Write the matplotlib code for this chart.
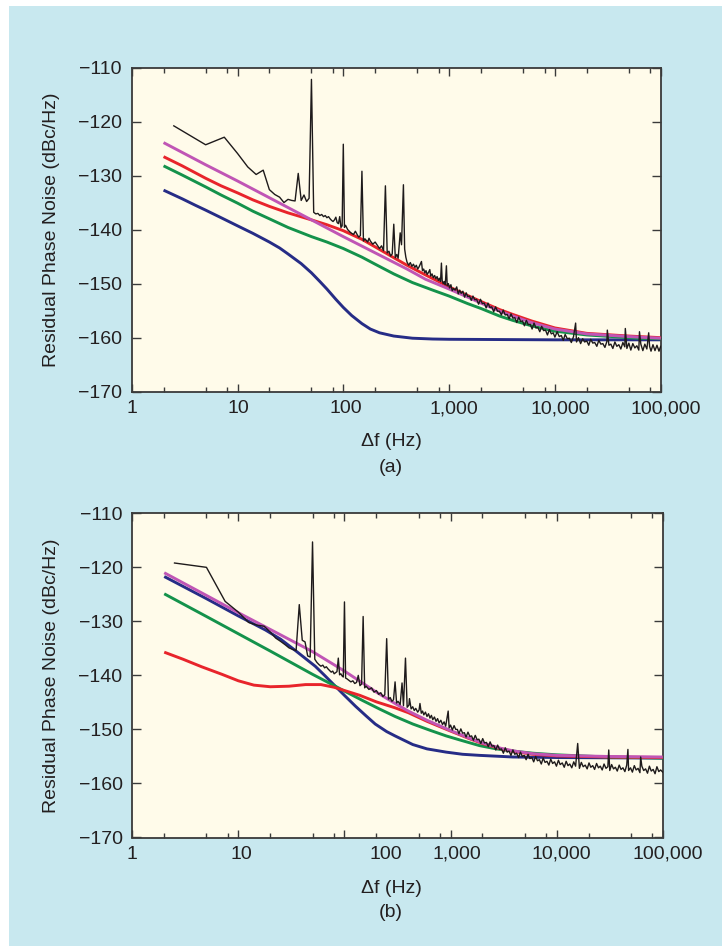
import matplotlib
matplotlib.use('Agg')
import matplotlib.pyplot as plt
from matplotlib.patches import Rectangle
from matplotlib.ticker import NullFormatter
from matplotlib.transforms import ScaledTranslation

plt.rcParams['font.family'] = ['Liberation Sans', 'DejaVu Sans']

# ---------------- data ----------------
x_major = [1, 10, 100, 1000, 10000, 100000]
x_major_labels = ['1', '10', '100', '1,000', '10,000', '100,000']
x_minor = [2, 5, 8, 20, 50, 80, 200, 500, 800, 2000, 5000, 8000,
           20000, 50000, 80000]
y_ticks = [-170, -160, -150, -140, -130, -120, -110]

# panel (a) smooth curves
a_mag_f = [2, 5, 10, 20, 50, 100, 200, 400, 600, 1000, 1500, 2000, 3000, 4000, 6000,
           10000, 20000, 50000, 100000]
a_mag_v = [-123.9, -128.0, -131.0, -134.1, -138.2, -141.3, -144.3, -147.3, -149.2, -151.0,
           -152.5, -153.6, -155.1, -156.0, -157.2, -158.4, -159.3, -159.8, -160.1]
a_red_f = [2, 3, 5, 7, 10, 14, 20, 30, 50, 70, 100, 150, 200, 300, 400, 600, 1000, 1500,
           2000, 3000, 4000, 6000, 10000, 20000, 50000, 100000]
a_red_v = [-126.5, -128.2, -130.5, -131.9, -133.2, -134.5, -135.7, -136.9, -138.2, -139.1,
           -140.2, -141.8, -143.2, -145.2, -146.6, -148.4, -150.6, -152.2, -153.3, -154.8,
           -155.7, -156.9, -158.2, -159.2, -159.7, -160.0]
a_grn_f = [2, 3, 5, 7, 10, 14, 20, 30, 50, 70, 100, 150, 200, 300, 450, 700, 1000, 1500,
           2000, 3000, 4000, 6000, 10000, 20000, 35000, 60000, 100000]
a_grn_v = [-128.2, -129.9, -132.1, -133.6, -135.1, -136.6, -138.0, -139.6, -141.3, -142.3,
           -143.5, -145.1, -146.4, -148.2, -149.8, -151.2, -152.3, -153.7, -154.6, -156.0,
           -156.8, -157.8, -158.8, -159.5, -159.8, -160.1, -160.2]
a_blu_f = [2, 3, 4, 5, 7, 10, 14, 20, 25, 30, 40, 50, 60, 70, 85, 100, 120, 150, 180, 220,
           300, 450, 700, 1000, 10000, 100000]
a_blu_v = [-132.7, -134.3, -135.5, -136.4, -137.8, -139.3, -140.7, -142.3, -143.4, -144.5,
           -146.3, -148.0, -149.6, -151.0, -152.9, -154.4, -155.9, -157.4, -158.4, -159.1,
           -159.7, -160.1, -160.25, -160.3, -160.4, -160.4]

# panel (a) measured trace (f, dBc/Hz)
a_meas = [
    (2.5, -120.8), (5, -124.3), (7.5, -122.9), (10, -125.9), (12.5, -128.4), (15, -129.8),
    (17.5, -129.0), (20, -132.6), (22.5, -133.5), (25, -134.0), (27.5, -135.0), (30, -134.4),
    (32.5, -134.6), (35, -134.7), (37.5, -129.6), (40, -134.6), (42.5, -133.6), (45, -134.8),
    (47.5, -134.2), (50, -112.2), (52.5, -136.8), (55, -137.1), (57.5, -137.0), (60, -137.4),
    (62.5, -137.2), (65, -137.6), (67.5, -137.4), (70, -137.8), (72.5, -137.6), (75, -138.0),
    (77.5, -138.3), (80, -138.5), (82.5, -138.2), (85, -137.7), (87.5, -138.7), (90, -138.9),
    (92.5, -137.6), (95, -139.6), (97.5, -139.3), (100, -124.2), (102.5, -139.6), (105, -139.2),
    (110, -140.0), (115, -140.4), (120, -140.7), (125, -140.9), (130, -140.3), (135, -140.9),
    (140, -141.4), (145, -141.1), (150, -129.2), (155, -142.1), (160, -141.7), (170, -142.3),
    (175, -141.6), (180, -142.1), (190, -142.7), (200, -142.3), (210, -142.9), (220, -143.5),
    (230, -143.0), (240, -143.9), (250, -131.9), (260, -144.3), (270, -144.0), (280, -144.9),
    (290, -144.5), (300, -139.0), (310, -145.2), (320, -144.6), (330, -145.3), (345, -140.6),
    (355, -142.8), (370, -131.7), (380, -143.6), (390, -145.1), (400, -146.0), (415, -146.6),
    (430, -146.1), (445, -146.8), (460, -146.4), (475, -147.0), (490, -146.6), (505, -147.3),
    (520, -146.9), (548, -145.9), (560, -147.6), (575, -147.3), (590, -148.0), (605, -147.6),
    (620, -148.3), (640, -147.9), (657, -147.4), (670, -148.6), (690, -148.2), (710, -148.9),
    (730, -148.5), (750, -149.1), (770, -148.7), (790, -149.4), (810, -149.0), (830, -149.6),
    (846, -146.2), (860, -149.4), (880, -150.0), (900, -149.6), (920, -150.2), (943, -146.7),
    (960, -150.4), (985, -150.0), (1010, -150.8), (1040, -150.2), (1070, -151.3), (1100, -150.9),
    (1140, -151.2), (1180, -150.6), (1220, -151.9), (1260, -151.2), (1300, -151.8), (1350, -151.4),
    (1400, -152.5), (1450, -151.7), (1500, -152.4), (1560, -152.3), (1620, -153.1), (1680, -152.3),
    (1750, -153.0), (1820, -152.9), (1900, -153.8), (1980, -152.9), (2060, -153.7), (2150, -153.6),
    (2240, -154.5), (2330, -153.6), (2430, -154.4), (2530, -154.3), (2640, -155.2), (2750, -154.3),
    (2870, -155.1), (2990, -155.1), (3120, -155.8), (3250, -154.9), (3390, -155.8), (3540, -155.7),
    (3690, -156.5), (3850, -155.6), (4010, -156.4), (4180, -156.3), (4360, -157.2), (4550, -156.2),
    (4740, -157.0), (4940, -156.9), (5150, -157.8), (5370, -156.8), (5600, -157.6), (5840, -157.5),
    (6090, -158.4), (6350, -157.3), (6620, -158.2), (6900, -158.1), (7200, -158.9), (7500, -157.9),
    (7820, -158.7), (8150, -158.6), (8500, -159.5), (8870, -158.5), (9250, -159.3), (9640, -159.1),
    (10000, -159.9), (10500, -158.9), (11000, -159.8), (11500, -159.6), (12000, -160.5),
    (12500, -159.4), (13100, -160.2), (13700, -160.1), (14300, -160.9), (15000, -159.8),
    (15700, -157.3), (16000, -160.8), (16700, -160.0), (17500, -161.1), (18300, -160.2),
    (19100, -160.8), (20000, -160.6), (20900, -161.4), (21800, -160.3), (22800, -161.0),
    (23800, -160.9), (24900, -161.6), (26000, -160.5), (27200, -161.2), (28400, -161.1),
    (29700, -161.8), (31000, -160.7), (31300, -158.6), (32400, -161.4), (33800, -161.2),
    (35300, -162.0), (36900, -160.8), (38500, -161.6), (40200, -161.3), (42000, -162.1),
    (43900, -160.9), (45800, -161.7), (46300, -158.3), (47900, -162.0), (50000, -161.0),
    (52200, -162.3), (54500, -161.1), (57000, -161.9), (59500, -161.5), (62100, -162.3),
    (63000, -158.9), (64900, -161.2), (67800, -162.4), (70800, -161.2), (74000, -162.1),
    (77000, -159.1), (78500, -161.6), (81000, -162.5), (84500, -161.3), (88300, -162.4),
    (92200, -161.4), (96300, -162.5), (100000, -161.6),
]

# panel (b) smooth curves
b_mag_f = [2, 5, 10, 20, 50, 100, 200, 300, 400, 600, 1000, 1500, 2000, 3000, 4000, 6000,
           10000, 30000, 100000]
b_mag_v = [-121.0, -125.2, -128.4, -131.5, -135.6, -139.2, -143.1, -145.2, -146.6, -148.3,
           -150.2, -151.6, -152.5, -153.5, -154.0, -154.5, -154.8, -155.0, -155.1]
b_red_f = [2, 3, 4.5, 7, 10, 14, 20, 30, 43, 60, 80, 100, 140, 200, 300, 400, 600, 1000,
           1500, 2000, 3000, 4000, 6000, 10000, 30000, 100000]
b_red_v = [-135.7, -137.0, -138.4, -139.8, -141.0, -141.8, -142.1, -142.0, -141.7, -141.7,
           -142.2, -142.8, -143.7, -144.9, -146.0, -146.9, -148.5, -150.3, -151.7, -152.6,
           -153.6, -154.1, -154.6, -154.9, -155.1, -155.2]
b_grn_f = [2, 5, 10, 20, 50, 82, 100, 150, 213, 300, 441, 650, 910, 1300, 1880, 2700, 3880,
           6000, 10000, 30000, 100000]
b_grn_v = [-124.9, -129.1, -132.3, -135.5, -139.8, -142.0, -142.9, -144.7, -146.2, -147.6,
           -149.0, -150.2, -151.2, -152.1, -153.0, -153.6, -154.0, -154.4, -154.7, -155.1,
           -155.3]
b_blu_f = [2, 5, 10, 18, 25, 35, 45, 53, 65, 82, 100, 127, 160, 195, 250, 300, 441, 600,
           910, 1300, 1880, 3880, 10000, 100000]
b_blu_v = [-121.7, -125.8, -129.0, -131.6, -133.3, -135.5, -137.2, -138.3, -140.0, -142.0,
           -143.7, -145.7, -147.5, -149.0, -150.4, -151.2, -152.8, -153.6, -154.2, -154.6,
           -154.8, -155.1, -155.2, -155.3]

# panel (b) measured trace (f, dBc/Hz)
b_meas = [
    (2.5, -119.2), (5, -120.0), (7.5, -126.3), (10, -128.3), (12.5, -130.2), (15, -130.7),
    (17.5, -130.9), (20, -132.0), (22.5, -133.1), (25, -133.7), (27.5, -134.3), (30, -134.9),
    (32.5, -135.2), (35, -135.4), (37.5, -126.9), (40, -133.5), (42.5, -133.8), (45, -136.4),
    (47.5, -136.6), (50, -115.3), (52.5, -137.0), (55, -137.6), (57.5, -138.0), (60, -138.3),
    (62.5, -138.1), (65, -138.6), (67.5, -138.4), (70, -138.8), (72.5, -139.1), (75, -139.4),
    (77.5, -139.2), (80, -139.7), (82.5, -139.5), (85, -139.3), (87.5, -136.8), (90, -139.9),
    (92.5, -139.7), (95, -140.1), (97.5, -140.3), (100, -126.4), (102.5, -140.5), (105, -140.6),
    (110, -140.9), (115, -141.2), (120, -141.0), (125, -141.5), (130, -141.3), (135, -140.0),
    (140, -141.9), (145, -141.6), (150, -129.1), (155, -142.3), (160, -142.0), (170, -142.6),
    (180, -142.3), (190, -143.1), (200, -142.8), (210, -143.5), (220, -143.2), (230, -143.9),
    (240, -143.6), (250, -133.2), (260, -144.4), (270, -144.1), (280, -144.8), (290, -144.5),
    (300, -141.2), (310, -145.1), (320, -144.8), (335, -145.4), (349, -141.4), (360, -145.6),
    (376, -136.8), (390, -145.9), (405, -145.5), (410, -144.3), (425, -146.2), (440, -145.8),
    (455, -146.5), (470, -146.1), (490, -146.8), (505, -146.4), (515, -145.2), (530, -147.0),
    (545, -146.6), (560, -147.3), (580, -146.8), (600, -147.6), (620, -147.1), (640, -147.9),
    (660, -147.4), (680, -148.2), (705, -147.7), (730, -148.5), (755, -148.0), (780, -148.8),
    (810, -148.3), (840, -149.1), (870, -148.6), (900, -149.4), (950, -146.6), (970, -149.7),
    (1000, -149.2), (1040, -150.1), (1080, -149.3), (1120, -150.0), (1160, -150.0),
    (1200, -150.8), (1250, -149.9), (1300, -150.7), (1350, -150.6), (1400, -151.4),
    (1460, -150.5), (1520, -151.3), (1580, -151.2), (1640, -152.0), (1710, -151.1),
    (1780, -151.9), (1850, -151.8), (1930, -152.6), (2010, -151.7), (2090, -152.5),
    (2180, -152.4), (2270, -153.2), (2360, -152.3), (2460, -153.1), (2560, -153.0),
    (2670, -153.8), (2780, -152.9), (2900, -153.7), (3020, -153.6), (3150, -154.4),
    (3280, -153.4), (3420, -154.2), (3560, -154.0), (3710, -154.8), (3870, -153.8),
    (4030, -154.6), (4200, -154.4), (4380, -155.2), (4560, -154.2), (4750, -155.0),
    (4950, -154.8), (5160, -155.6), (5380, -154.6), (5600, -155.4), (5840, -155.2),
    (6080, -156.0), (6340, -155.0), (6600, -155.8), (6880, -155.6), (7170, -156.4),
    (7470, -155.3), (7780, -156.1), (8110, -155.9), (8450, -156.6), (8800, -155.5),
    (9170, -156.3), (9560, -156.0), (9960, -156.8), (10400, -155.7), (10800, -156.5),
    (11300, -156.2), (11800, -157.0), (12300, -155.9), (12800, -156.7), (13300, -156.4),
    (13900, -157.1), (14500, -156.0), (15100, -156.8), (15800, -152.6), (16400, -157.2),
    (17100, -156.1), (17800, -156.9), (18600, -156.6), (19400, -157.3), (20200, -156.2),
    (21000, -157.0), (21900, -156.7), (22800, -157.4), (23800, -156.3), (24800, -157.1),
    (25800, -156.8), (26900, -157.5), (28000, -156.4), (29200, -157.2), (30400, -156.9),
    (31000, -153.8), (31700, -157.6), (33000, -156.5), (34400, -157.3), (35800, -157.0),
    (37300, -157.7), (38900, -156.6), (40500, -157.4), (42200, -157.1), (44000, -157.8),
    (45800, -156.6), (47000, -153.7), (47700, -157.6), (49700, -157.1), (51800, -157.9),
    (54000, -156.7), (56200, -157.5), (58600, -157.2), (61000, -158.0), (62000, -155.1),
    (63600, -156.8), (66200, -157.6), (69000, -157.3), (71900, -158.1), (74900, -156.8),
    (78000, -157.7), (81300, -157.4), (84700, -158.2), (88200, -156.9), (91900, -157.8),
    (95700, -157.5), (100000, -157.9),
]

# ---------------- style ----------------
BG_BLUE = '#c8e8ef'
AX_FACE = '#fffbea'
C_MAG = '#c055b5'
C_RED = '#e8242b'
C_GRN = '#14924b'
C_BLU = '#262c86'
C_BLK = '#1e1a1b'
SPINE = '#3a3a3a'
TXT = '#231f20'

W, H = 722, 946
fig = plt.figure(figsize=(W / 100, H / 100), dpi=100, facecolor='white')
fig.patches.append(Rectangle((9 / W, 0), 1 - 9 / W, 1 - 6 / H, transform=fig.transFigure,
                             facecolor=BG_BLUE, edgecolor='none', zorder=-10))


def px_rect(left, top, right, bottom):
    return [left / W, 1 - bottom / H, (right - left) / W, (bottom - top) / H]


def make_panel(rect, curves, meas, tag, label_y, tag_y, ycenter, label_dx):
    ax = fig.add_axes(px_rect(*rect))
    ax.set_facecolor(AX_FACE)
    ax.set_xscale('log')
    ax.set_xlim(1, 100000)
    ax.set_ylim(-170, -110)
    for (f, v, c, z) in curves:
        ax.plot(f, v, color=c, lw=2.1, zorder=z, solid_capstyle='butt')
    mf = [p[0] for p in meas]
    mv = [p[1] for p in meas]
    ax.plot(mf, mv, color=C_BLK, lw=1.0, zorder=5)
    ax.set_xticks(x_major, [''] * len(x_major))
    ax.set_xticks(x_minor, minor=True)
    ax.xaxis.set_minor_formatter(NullFormatter())
    ax.set_yticks(y_ticks)
    ax.tick_params(which='both', direction='in', top=True, right=True, color=SPINE,
                   width=1.0, labelsize=14, labelcolor=TXT)
    ax.tick_params(axis='x', which='major', length=6, pad=6)
    ax.tick_params(axis='x', which='minor', length=3.5)
    ax.tick_params(axis='y', which='major', length=6.5, pad=7)
    for s in ax.spines.values():
        s.set_color(SPINE)
        s.set_linewidth(1.3)
    # x tick labels (the printed labels sit slightly right of their ticks)
    for xv, lab, dx in zip(x_major, x_major_labels, label_dx):
        tr = ax.get_xaxis_transform() + ScaledTranslation(dx / 100, -6 / 72,
                                                          fig.dpi_scale_trans)
        ax.text(xv, 0, lab, transform=tr, ha='center', va='top', fontsize=14, color=TXT)
    cx = 391 / W
    fig.text(cx, 1 - label_y / H, '\u0394f (Hz)', ha='center', va='center',
             fontsize=14, color=TXT)
    fig.text(cx, 1 - tag_y / H, tag, ha='center', va='center', fontsize=14, color=TXT)
    fig.text(51 / W, 1 - ycenter / H, 'Residual Phase Noise (dBc/Hz)', rotation=90,
             ha='center', va='center', fontsize=14, color=TXT)
    return ax


curves_a = [(a_blu_f, a_blu_v, C_BLU, 2), (a_grn_f, a_grn_v, C_GRN, 3),
            (a_red_f, a_red_v, C_RED, 3.5), (a_mag_f, a_mag_v, C_MAG, 4)]
curves_b = [(b_blu_f, b_blu_v, C_BLU, 2), (b_grn_f, b_grn_v, C_GRN, 3),
            (b_red_f, b_red_v, C_RED, 3.5), (b_mag_f, b_mag_v, C_MAG, 4)]

make_panel((131.7, 67.5, 660.7, 391.7), curves_a, a_meas, '(a)', 442, 467, 229.6,
           [0, 1, 3, 5, 5, 5])
make_panel((132.3, 513.3, 662.7, 837.5), curves_b, b_meas, '(b)', 888, 912, 675.4,
           [0, 3, 41, 6, 5, 5])

fig.savefig('out.png', dpi=100, facecolor='white')
